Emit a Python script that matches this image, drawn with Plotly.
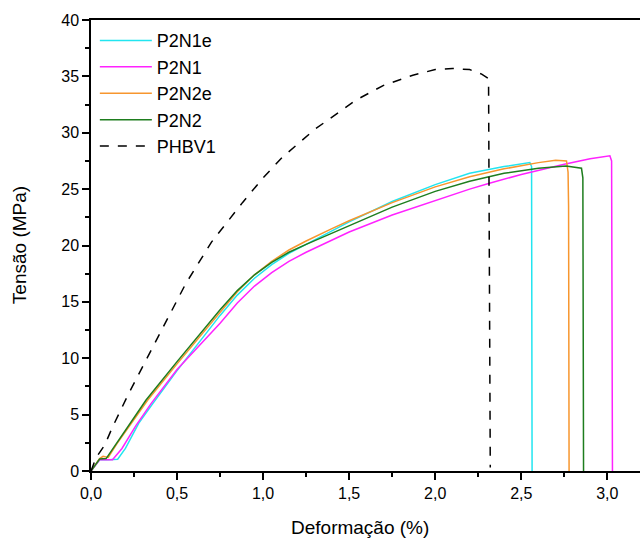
import plotly.graph_objects as go

# P2N1e (cyan)
p2n1e_x = [0, 0.05, 0.10, 0.155, 0.2, 0.28, 0.36, 0.5, 0.75, 0.85, 0.95, 1.05, 1.15, 1.25, 1.4, 1.5, 1.75, 2.0, 2.2, 2.4, 2.55, 2.56, 2.563]
p2n1e_y = [0, 1.0, 1.0, 1.05, 2.0, 4.3, 6.0, 8.9, 13.8, 15.6, 17.1, 18.3, 19.3, 20.1, 21.3, 22.1, 23.9, 25.4, 26.4, 27.0, 27.35, 27.0, 0]

# P2N1 (magenta)
p2n1_x = [0, 0.05, 0.125, 0.18, 0.26, 0.35, 0.5, 0.75, 0.85, 0.95, 1.05, 1.15, 1.25, 1.4, 1.5, 1.75, 2.0, 2.2, 2.31, 2.5, 2.75, 2.9, 3.015, 3.025, 3.03]
p2n1_y = [0, 1.0, 1.0, 2.0, 4.0, 6.0, 9.0, 13.1, 14.9, 16.4, 17.6, 18.6, 19.4, 20.5, 21.2, 22.7, 24.0, 25.0, 25.5, 26.3, 27.2, 27.7, 27.95, 27.5, 0]

# P2N2e (orange)
p2n2e_x = [0, 0.05, 0.07, 0.1, 0.15, 0.24, 0.33, 0.5, 0.75, 0.85, 0.95, 1.05, 1.15, 1.25, 1.4, 1.5, 1.75, 2.0, 2.2, 2.4, 2.6, 2.7, 2.763, 2.772, 2.775, 2.778]
p2n2e_y = [0, 1.1, 1.3, 1.2, 2.4, 4.4, 6.3, 9.5, 14.1, 15.9, 17.4, 18.6, 19.6, 20.4, 21.5, 22.2, 23.8, 25.2, 26.1, 26.8, 27.35, 27.55, 27.5, 26.5, 23.5, 0]

# P2N2 (green)
p2n2_x = [0, 0.05, 0.088, 0.15, 0.24, 0.32, 0.5, 0.75, 0.85, 0.95, 1.05, 1.15, 1.25, 1.4, 1.5, 1.75, 2.0, 2.2, 2.4, 2.6, 2.76, 2.85, 2.858, 2.862]
p2n2_y = [0, 1.06, 1.1, 2.5, 4.5, 6.3, 9.7, 14.3, 16.0, 17.4, 18.5, 19.4, 20.1, 21.1, 21.8, 23.4, 24.8, 25.7, 26.4, 26.85, 27.05, 26.85, 26.0, 0]

# PHBV1 (black dashed)
phbv1_x = [0, 0.03, 0.08, 0.125, 0.22, 0.4, 0.55, 0.7, 0.88, 1.0, 1.11, 1.3, 1.54, 1.7, 1.87, 2.0, 2.1, 2.2, 2.27, 2.31, 2.315, 2.32]
phbv1_y = [0, 1.2, 2.3, 3.9, 6.9, 12.2, 16.6, 20.3, 23.8, 26.0, 27.8, 30.3, 32.9, 34.2, 35.1, 35.6, 35.7, 35.6, 35.2, 34.8, 20.0, 0.3]

x_ticks = [0, 0.5, 1.0, 1.5, 2.0, 2.5, 3.0]
y_ticks = [0, 5, 10, 15, 20, 25, 30, 35, 40]

series = [
    ("P2N1e", p2n1e_x, p2n1e_y, "#22E5F0", "solid"),
    ("P2N1", p2n1_x, p2n1_y, "#FF22FF", "solid"),
    ("P2N2e", p2n2e_x, p2n2e_y, "#F7962E", "solid"),
    ("P2N2", p2n2_x, p2n2_y, "#1E7D1E", "solid"),
    ("PHBV1", phbv1_x, phbv1_y, "#000000", "dash"),
]

fig = go.Figure()
for name, xs, ys, col, dash in series:
    fig.add_trace(go.Scatter(x=xs, y=ys, mode="lines", name=name,
                             line=dict(color=col, width=1.5, dash=dash)))

font_family = "Liberation Sans, Arial, sans-serif"
fig.update_layout(
    width=640, height=539,
    margin=dict(l=91, r=0, t=20, b=68),
    paper_bgcolor="white", plot_bgcolor="white",
    separators=",.",
    font=dict(family=font_family, size=16, color="black"),
    showlegend=True,
    legend=dict(x=0.007, y=0.995, xanchor="left", yanchor="top",
                bgcolor="rgba(0,0,0,0)", font=dict(size=18), tracegroupgap=0,
                itemwidth=52),
    annotations=[
        dict(text="Deformação (%)", xref="paper", yref="paper", x=0.49, y=-0.125,
             showarrow=False, xanchor="center", yanchor="middle", font=dict(size=19)),
        dict(text="Tensão (MPa)", xref="paper", yref="paper", x=-0.13, y=0.5,
             showarrow=False, xanchor="center", yanchor="middle", textangle=-90,
             font=dict(size=19)),
    ],
)
fig.update_xaxes(range=[0, 3.19], tickvals=x_ticks, tickformat=".1f",
                 showgrid=False, zeroline=False, showline=True, linecolor="black",
                 linewidth=1.5, mirror=True, ticks="outside", ticklen=7, tickwidth=1.5,
                 tickcolor="black", minor=dict(dtick=0.25, ticks="outside", ticklen=4,
                                               tickwidth=1.5, tickcolor="black"),
                 tickfont=dict(size=16))
fig.update_yaxes(range=[0, 40], tickvals=y_ticks, showgrid=False, zeroline=False,
                 showline=True, linecolor="black", linewidth=1.5, mirror=False,
                 ticks="outside", ticklen=7, tickwidth=1.5, tickcolor="black",
                 minor=dict(dtick=2.5, ticks="outside", ticklen=4, tickwidth=1.5,
                            tickcolor="black"),
                 tickfont=dict(size=16))

fig.write_html("out.html")
